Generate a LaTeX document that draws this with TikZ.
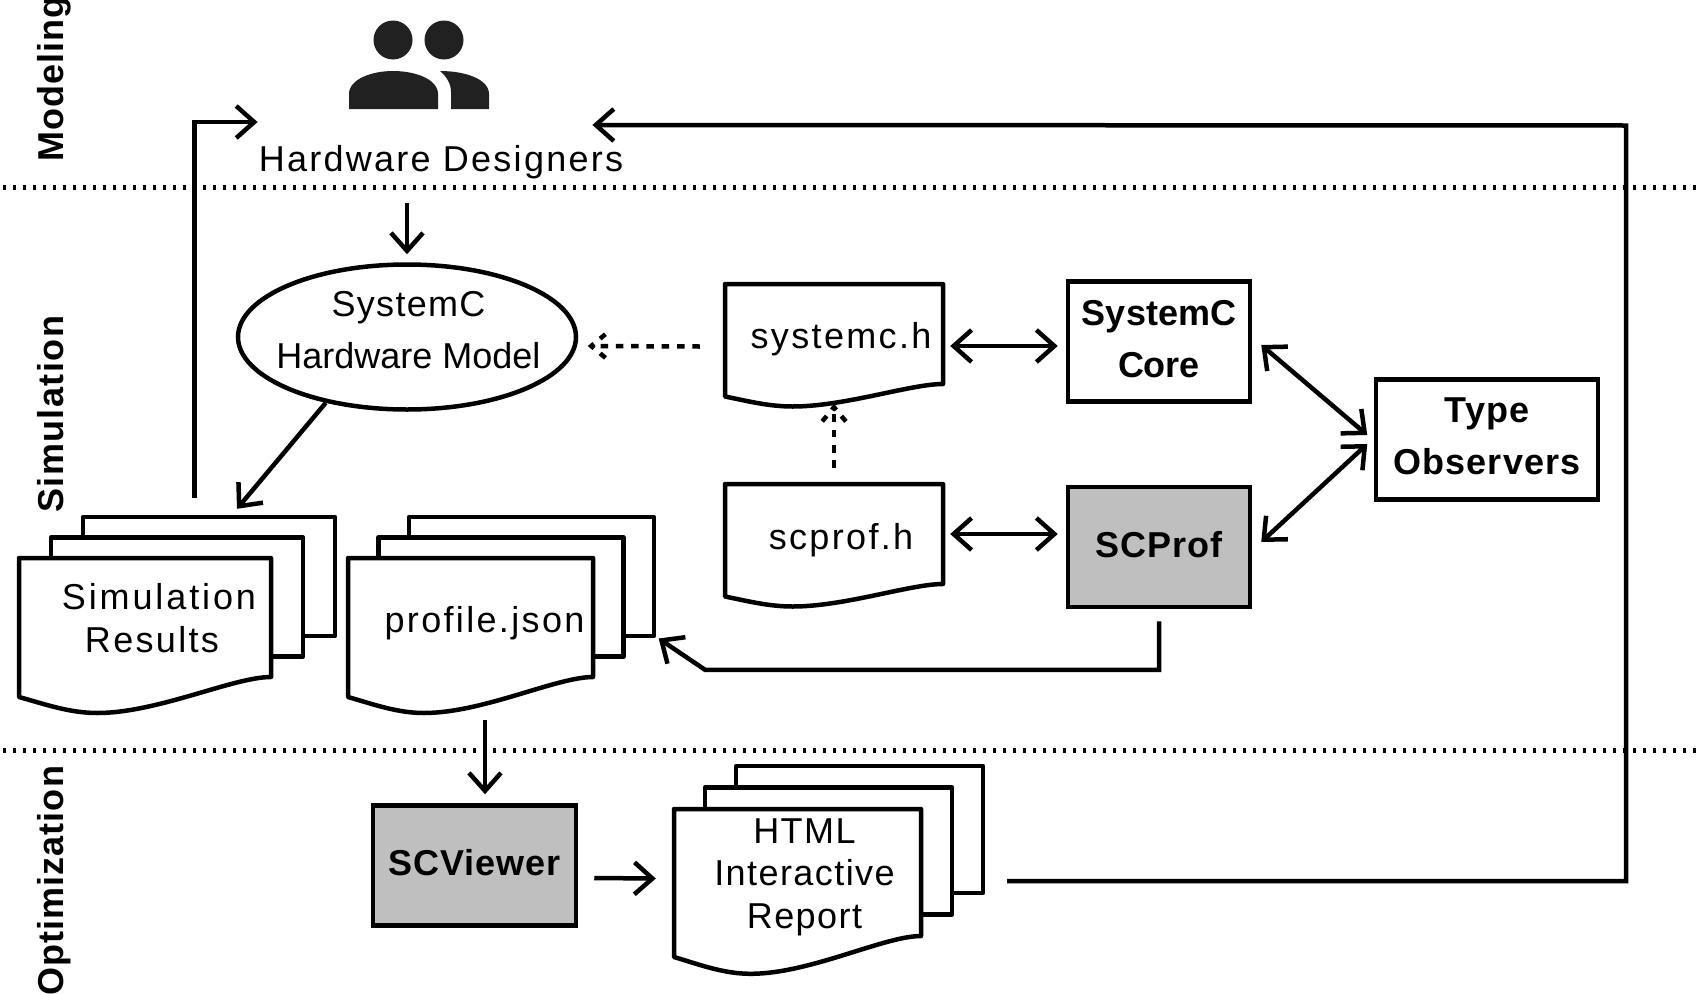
\documentclass[tikz,border=0pt]{standalone}
\usepackage{fontspec}
\setmainfont{Liberation Sans}
\newfontfamily\wideface[LetterSpace=6.5]{Liberation Sans}
\newfontfamily\headface[LetterSpace=3,BoldFont={Liberation Sans Bold}]{Liberation Sans}
\usetikzlibrary{arrows.meta,shapes.geometric}

% one page with a wavy lower edge: name, x, y, width, height, wave
\newcommand{\docpage}[6]{%
  \draw[page] (#2,#3) -- ++(#4,0) -- ++(0,#5)
    .. controls ({#2+0.85*#4},{#3+#5}) and ({#2+0.55*#4},{#3+#5+1.8*#6}) .. ({#2+0.31*#4},{#3+#5+1.8*#6})
    .. controls ({#2+0.2*#4},{#3+#5+1.8*#6}) and ({#2+0.1*#4},{#3+#5+1.35*#6}) .. (#2,{#3+#5+#6}) -- cycle;
  \node[minimum width=#4pt, minimum height=#5pt, inner sep=0pt] (#1) at ({#2+#4/2},{#3+#5/2}) {};
}
% three pages on top of each other: the same, then the offset of the last page
\newcommand{\docstack}[8]{%
  \draw[page] ({#2+#7},{#3+#8}) rectangle ++(#4,#5);
  \draw[page] ({#2+#7/2},{#3+#8/2}) rectangle ++(#4,#5);
  \docpage{#1}{#2}{#3}{#4}{#5}{#6}
}

\begin{document}
\begin{tikzpicture}[
    x=1pt, y=-1pt,
    page/.style={draw, line width=4.5pt, fill=white, line join=round},
    box/.style={draw, line width=4.5pt, minimum width=182pt, minimum height=120pt, inner sep=0pt, text depth=6pt, align=center, font=\headface\bfseries\fontsize{36}{52}\selectfont},
    tool/.style={box, fill=black!25},
    lbl/.style={inner sep=0pt, align=center, font=\wideface\fontsize{36}{43}\selectfont},
    side/.style={inner sep=0pt, rotate=90, anchor=base west, font=\headface\bfseries\fontsize{36}{43}\selectfont},
    sepline/.style={line width=5pt, dash pattern=on 2.7pt off 7.3pt},
    arr/.style={-{Straight Barb[length=18pt,width=32pt]}, line width=4.5pt},
    biarr/.style={{Straight Barb[length=18pt,width=32pt]}-{Straight Barb[length=18pt,width=32pt]}, line width=4.5pt},
    dep/.style={line width=4.5pt, dash pattern=on 7.5pt off 7.8pt},
    dephead/.style={line width=4.5pt, dash pattern=on 7pt off 8pt, dash phase=10pt, miter limit=10}
]
\path[use as bounding box, fill=white] (0,0) rectangle (1696,993);

% phases
\draw[sepline] (3,187) -- (1696,187);
\draw[sepline] (3,750) -- (1696,750);
\node[side] (modeling) at (63,162) {Modeling};
\node[side, font=\headface\addfontfeature{LetterSpace=4}\bfseries\fontsize{36}{43}\selectfont] (simulation) at (63,513) {Simulation};
\node[side] (optimization) at (63,996) {Optimization};

% designers icon
\fill[black!87] (393,40) circle (19.5);
\fill[black!87] (444,40) circle (19.5);
\fill[black!87] (349,109) -- (349,94) .. controls (349,79) and (372,71) .. (393,71)
    .. controls (415,71) and (438,79) .. (438,94) -- (438,109) -- cycle;
\fill[black!87] (440,71) .. controls (447,77) and (451,84) .. (451,92) -- (451,109) -- (489,109) -- (489,94)
    .. controls (489,79) and (465,71) .. (440,71) -- cycle;
\node[lbl, anchor=base, font=\wideface\addfontfeature{LetterSpace=6.3}\fontsize{36}{43}\selectfont] (des) at (441,171) {Hardware Designers};

\node[draw, ellipse, line width=4.5pt, minimum width=338pt, minimum height=145pt, inner sep=0pt] (model) at (407,337) {};
\node[inner sep=0pt, align=center, font=\fontsize{36}{52}\selectfont] (modeltxt) at ([shift={(1.5,-7)}]model.center)
    {{\addfontfeature{LetterSpace=3.5}SystemC}\\Hardware Model};

% files
\docstack{res}{19}{558}{252}{119}{20}{64}{-41}
\node[lbl] (restxt) at ([shift={(14,0.5)}]res.center) {{\addfontfeature{LetterSpace=8}Simulation}\\Results\hspace*{14pt}};
\docstack{prof}{348}{558}{245}{119}{20}{61}{-41}
\node[lbl] (proftxt) at ([shift={(14,5.5)}]prof.center) {profile.json};
\docpage{sysh}{725}{284}{218}{100}{12.5}
\node[lbl] (syshtxt) at ([shift={(7,5.5)}]sysh.center) {systemc.h};
\docpage{scph}{725}{484}{218}{100}{12.5}
\node[lbl] (scphtxt) at ([shift={(7,6)}]scph.center) {scprof.h};
\docstack{html}{674}{809}{247}{127}{21}{62}{-43}
\node[lbl, font=\wideface\addfontfeature{LetterSpace=4}\fontsize{36}{42.5}\selectfont] (htmltxt) at ([shift={(7,4.5)}]html.center) {HTML\\Interactive\\Report};

% tools
\node[box, font=\bfseries\fontsize{36}{52}\selectfont] (core) at (1159,341.5) {SystemC\\Core};
\node[tool] (scprof) at (1159,547) {SCProf};
\node[box, minimum width=222pt] (type) at (1487,439.5) {Type\\Observers};
\node[tool, minimum width=203pt] (view) at (474.5,865.5) {SCViewer};

% connectors
\draw[arr] ([shift={(-34,32)}]des.base) -- ([shift={(0,-8)}]model.north);
\draw[arr] ([shift={(49.5,-60)}]res.north) |- ([shift={(-1,-49)}]des.base west);
\draw[arr] (model.219) -- ([shift={(92,-49)}]res.north);
\draw[dep] ([shift={(-25,12.5)}]sysh.west) -- ([shift={(13,9)}]model.east);
\draw[dephead] ([shift={(31,-6)}]model.east) -- ([shift={(13,9)}]model.east) -- ([shift={(31,24)}]model.east);
\draw[dep] ([shift={(0,-16)}]scph.north) -- ([shift={(0,23)}]sysh.south);
\draw[dephead] ([shift={(-15,41)}]sysh.south) -- ([shift={(0,23)}]sysh.south) -- ([shift={(15,41)}]sysh.south);
\draw[biarr] ([shift={(7,12)}]sysh.east) -- ([shift={(-8,4.5)}]core.west);
\draw[biarr] ([shift={(7,0)}]scph.east) -- ([shift={(-8,-13)}]scprof.west);
\draw[biarr] ([shift={(9,3.5)}]core.east) -- ([shift={(-6.5,-4.5)}]type.west);
\draw[biarr] ([shift={(9,-5)}]scprof.east) -- ([shift={(-6.5,4.5)}]type.west);
\draw[arr] ([shift={(0,12)}]scprof.south) -- ++(0,48.5) -- ++(-454,0) -- ([shift={(65.5,21)}]prof.east);
\draw[arr] ([shift={(14.5,43)}]prof.south) -- ([shift={(10.5,-9)}]view.north);
\draw[arr] ([shift={(16,12.5)}]view.east) -- ([shift={(-18,6)}]html.west);
\draw[arr] ([shift={(86,8.5)}]html.east) -- ++(619,0) -- ++(0,-755.5) -- ([shift={(-31,-46)}]des.base east);
\end{tikzpicture}
\end{document}
